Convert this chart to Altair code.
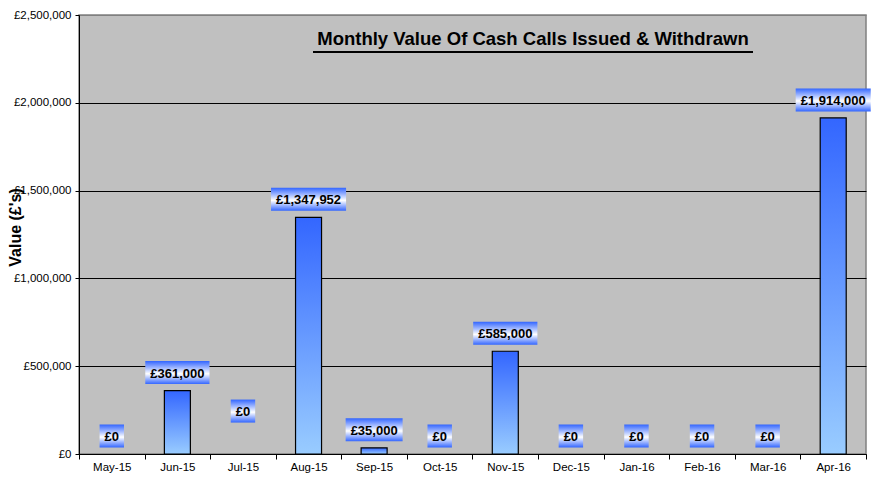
import altair as alt
import pandas as pd

months = ["May-15", "Jun-15", "Jul-15", "Aug-15", "Sep-15", "Oct-15",
          "Nov-15", "Dec-15", "Jan-16", "Feb-16", "Mar-16", "Apr-16"]
values = [0, 361000, 0, 1347952, 35000, 0, 585000, 0, 0, 0, 0, 1914000]
y_ticks = [0, 500000, 1000000, 1500000, 2000000, 2500000]
title_text = "Monthly Value Of Cash Calls Issued & Withdrawn"

df = pd.DataFrame({"month": months, "value": values})

FONT = "Liberation Sans"

x_enc = alt.X("month:N", sort=months,
              scale=alt.Scale(paddingInner=0, paddingOuter=0),
              axis=alt.Axis(title=None, labelAngle=0, labelFontSize=11.5,
                            labelColor="black", tickBand="extent", tickSize=5,
                            tickColor="black", domainColor="black",
                            labelPadding=2, labelFont=FONT))
y_scale = alt.Scale(domain=[0, 2500000], nice=False)

bar_grad = alt.Gradient(gradient="linear", x1=0, x2=0, y1=0, y2=1,
                        stops=[alt.GradientStop(color="#3366FF", offset=0),
                               alt.GradientStop(color="#99CCFF", offset=1)])
box_grad = alt.Gradient(gradient="linear", x1=0, x2=0, y1=0, y2=1,
                        stops=[alt.GradientStop(color="#3366FF", offset=0),
                               alt.GradientStop(color="#FFFFFF", offset=0.55),
                               alt.GradientStop(color="#3366FF", offset=1)])

base = alt.Chart(df)

bars = base.transform_filter("datum.value > 0").mark_bar(
    size=26, color=bar_grad, stroke="black", strokeWidth=1.2).encode(
    x=x_enc,
    y=alt.Y("value:Q", scale=y_scale,
            axis=alt.Axis(values=y_ticks,
                          labelExpr="'£' + format(datum.value, ',')",
                          labelFontSize=11.5, labelColor="black", labelFont=FONT,
                          tickSize=4, tickColor="black", domainColor="black",
                          labelPadding=4,
                          grid=True,
                          gridColor={"condition": {"test": "datum.value >= 2500000",
                                                   "value": "#808080"},
                                     "value": "black"},
                          gridOpacity=1,
                          title="Value (£'s)", titleFontSize=16,
                          titleFontWeight="bold", titleFont=FONT,
                          titleColor="black", titleAngle=270,
                          titleAlign="center", titleBaseline="middle",
                          titleX=-64, titleY=212)),
)

lab_base = base.transform_calculate(
    label="'£' + format(datum.value, ',')",
    ndig="length(format(datum.value, 'd'))",
).transform_calculate(
    boxw="13 * (0.556 * (datum.ndig + 1) + 0.278 * floor((datum.ndig - 1) / 3)) + 10",
    ylab="datum.value + (datum.month == 'Jul-15' ? 142000 : 0)",
)

boxes = lab_base.mark_tick(orient="horizontal", thickness=23, color=box_grad,
                           opacity=1, yOffset=-18).encode(
    x=alt.X("month:N", sort=months),
    y=alt.Y("ylab:Q", scale=y_scale),
    size=alt.Size("boxw:Q", scale=None, legend=None),
)

texts = lab_base.mark_text(font=FONT, fontSize=13, fontWeight="bold",
                           color="black", baseline="middle", dy=-17).encode(
    x=alt.X("month:N", sort=months),
    y=alt.Y("ylab:Q", scale=y_scale),
    text="label:N",
)

tdf = pd.DataFrame({"t": [title_text]})
title = alt.Chart(tdf).mark_text(font=FONT, fontSize=18.5, fontWeight="bold",
                                 color="black", align="center",
                                 baseline="alphabetic").encode(
    x=alt.value(454), y=alt.value(30), text="t:N")
underline = alt.Chart(tdf).mark_rule(color="black", strokeWidth=2).encode(
    x=alt.value(234), x2=alt.value(674), y=alt.value(37))

chart = alt.layer(bars, boxes, texts, title, underline).properties(
    width=787, height=439,
    autosize=alt.AutoSizeParams(type="none"),
    padding={"left": 71, "top": 7, "right": 8, "bottom": 30},
    view=alt.ViewBackground(fill="#C0C0C0", stroke="#808080", strokeWidth=1.5),
).configure_view(
    fill="#C0C0C0", stroke="#808080", strokeWidth=1.5
).configure(background="white")

chart.save("out.html", embed_options={"renderer": "svg", "actions": False})
